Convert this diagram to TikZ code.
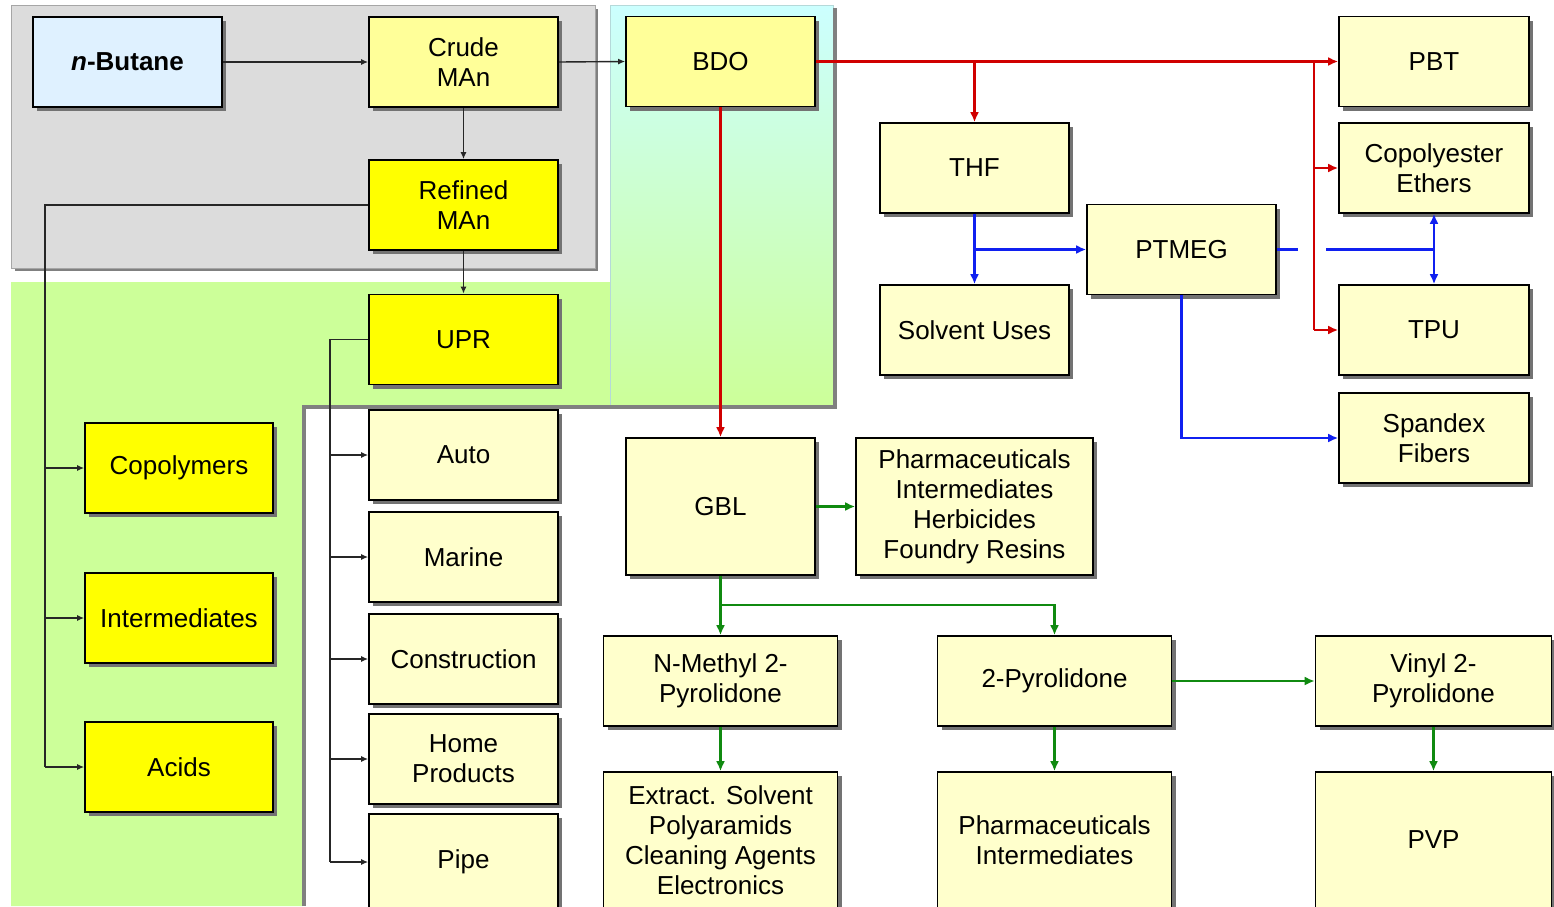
\documentclass[tikz,border=0pt]{standalone}
\usepackage{fontspec}
\setmainfont{Liberation Sans}
\usetikzlibrary{arrows.meta,shadows}
\definecolor{paleY}{HTML}{FFFF99}
\definecolor{cream}{HTML}{FFFFCC}
\definecolor{yel}{HTML}{FFFF00}
\definecolor{lblue}{HTML}{DFF1FF}
\definecolor{panelgray}{HTML}{DCDCDC}
\definecolor{lgreen}{HTML}{CCFF99}
\definecolor{lcyan}{HTML}{CCFFFF}
\definecolor{redc}{HTML}{D00000}
\definecolor{bluec}{HTML}{1020F0}
\definecolor{greenc}{HTML}{108A10}
\tikzset{
  box/.style={draw=black, line width=0.8pt, align=center, inner sep=2pt,
    minimum width=94.5pt, minimum height=45pt,
    font=\fontsize{13}{15}\selectfont,
    drop shadow={shadow xshift=2pt, shadow yshift=-2pt, fill=black!55, opacity=1}},
  blk/.style={draw=black!85, line width=0.7pt, -{Latex[length=3.5pt,width=3pt]}},
  blkn/.style={draw=black!85, line width=0.9pt},
  redl/.style={draw=redc, line width=1.4pt, -{Latex[length=5pt,width=4.5pt]}},
  redn/.style={draw=redc, line width=1.4pt},
  bluel/.style={draw=bluec, line width=1.4pt, -{Latex[length=5pt,width=4.5pt]}},
  bluen/.style={draw=bluec, line width=1.4pt},
  greenl/.style={draw=greenc, line width=1.4pt, -{Latex[length=5pt,width=4.5pt]}},
  greenn/.style={draw=greenc, line width=1.4pt},
}
\begin{document}
\begin{tikzpicture}[x=0.5pt,y=-0.5pt]
\useasboundingbox (0,0) rectangle (1554,906);
\fill[white] (0,0) rectangle (1554,906);
% green L region
\fill[lgreen] (11,282) -- (610,282) -- (610,405) -- (302,405) -- (302,906) -- (11,906) -- cycle;
\shade[top color=lcyan, bottom color=lgreen] (610,5) rectangle (833,405);
\draw[lcyan!70!gray, line width=0.4pt] (610,5) rectangle (833,405);
\draw[black!50, line width=2.2pt] (304,906) -- (304,407) -- (835,407) -- (835,8);
% gray panel
\fill[black!50] (15,9) rectangle (598,271);
\filldraw[fill=panelgray, draw=black!35, line width=0.5pt] (11,5) rectangle (595,268);

% nodes
\node[box, fill=lblue] (but) at (127.5,62) {\textbf{\textit{n}-Butane}};
\node[box, fill=paleY] (crude) at (463.5,62) {Crude\\MAn};
\node[box, fill=yel] (ref) at (463.5,205) {Refined\\MAn};
\node[box, fill=yel] (upr) at (463.5,339.5) {UPR};
\node[box, fill=paleY] (bdo) at (720.5,61.5) {BDO};
\node[box, fill=cream, minimum width=95pt] (pbt) at (1434,61.5) {PBT};
\node[box, fill=cream] (thf) at (974.5,168) {THF};
\node[box, fill=cream, minimum width=95pt] (cope) at (1434,168) {Copolyester\\Ethers};
\node[box, fill=cream] (ptmeg) at (1181.5,249.5) {PTMEG};
\node[box, fill=cream] (solv) at (974.5,330) {Solvent Uses};
\node[box, fill=cream, minimum width=95pt] (tpu) at (1434,330) {TPU};
\node[box, fill=cream, minimum width=95pt] (span) at (1434,438) {Spandex\\Fibers};
\node[box, fill=yel, minimum width=94pt] (copo) at (179,468) {Copolymers};
\node[box, fill=yel, minimum width=94pt] (inter) at (179,618) {Intermediates};
\node[box, fill=yel, minimum width=94pt] (acid) at (179,767) {Acids};
\node[box, fill=cream] (auto) at (463.5,455) {Auto};
\node[box, fill=cream] (mar) at (463.5,557) {Marine};
\node[box, fill=cream] (cons) at (463.5,659) {Construction};
\node[box, fill=cream] (home) at (463.5,759) {Home\\Products};
\node[box, fill=cream, minimum height=48pt] (pipe) at (463.5,862) {Pipe};
\node[box, fill=cream, minimum height=68.5pt] (gbl) at (720.5,506.5) {GBL};
\node[box, fill=cream, minimum width=118.5pt, minimum height=68.5pt] (ph1) at (974.5,506.5) {Pharmaceuticals\\Intermediates\\Herbicides\\Foundry Resins};
\node[box, fill=cream, minimum width=117pt] (nmp) at (720.5,681) {N-Methyl 2-\\Pyrolidone};
\node[box, fill=cream, minimum width=117pt] (pyr) at (1054.5,681) {2-Pyrolidone};
\node[box, fill=cream, minimum width=118pt] (vin) at (1433.5,681) {Vinyl 2-\\Pyrolidone};
\node[box, fill=cream, minimum width=117pt, minimum height=68pt] (ext) at (720.5,840) {Extract. Solvent\\Polyaramids\\Cleaning Agents\\Electronics};
\node[box, fill=cream, minimum width=117pt, minimum height=68pt] (ph2) at (1054.5,840) {Pharmaceuticals\\Intermediates};
\node[box, fill=cream, minimum width=118pt, minimum height=68pt] (pvp) at (1433.5,840) {PVP};

% black connectors
\draw[blk] (but.east) -- (crude.west);
\draw[blk] (crude.east) -- (bdo.west);
\draw[blk] (crude.south) -- (ref.north);
\draw[blk] (ref.south) -- (upr.north);
\coordinate (l1) at (45,205);
\draw[blkn] (ref.west) -- (l1) -- (l1 |- acid.west);
\draw[blk] (l1 |- copo.west) -- (copo.west);
\draw[blk] (l1 |- inter.west) -- (inter.west);
\draw[blk] (l1 |- acid.west) -- (acid.west);
\coordinate (u1) at (330,339.5);
\draw[blkn] (upr.west) -- (u1) -- (u1 |- pipe.west);
\draw[blk] (u1 |- auto.west) -- (auto.west);
\draw[blk] (u1 |- mar.west) -- (mar.west);
\draw[blk] (u1 |- cons.west) -- (cons.west);
\draw[blk] (u1 |- home.west) -- (home.west);
\draw[blk] (u1 |- pipe.west) -- (pipe.west);

% red connectors
\draw[redl] (bdo.east) -- (pbt.west);
\draw[redl] (thf.north |- bdo.east) -- (thf.north);
\coordinate (rj) at (1314,61.5);
\draw[redn] (rj) -- (rj |- tpu.west);
\draw[redl] (rj |- cope.west) -- (cope.west);
\draw[redl] (rj |- tpu.west) -- (tpu.west);
\draw[redl] (bdo.south) -- (gbl.north);

% blue connectors
\draw[bluel] (thf.south) -- (solv.north);
\draw[bluel] (thf.south |- ptmeg.west) -- (ptmeg.west);
\coordinate (g1) at (1298,249.5);
\coordinate (g2) at (1326,249.5);
\coordinate (pj) at (cope.south |- ptmeg.east);
\draw[bluen] (ptmeg.east) -- (g1);
\draw[bluen] (g2) -- (pj);
\draw[bluel] (pj) -- (cope.south);
\draw[bluel] (pj) -- (tpu.north);
\draw[bluel] (ptmeg.south) |- (span.west);

% green connectors
\draw[greenl] (gbl.east) -- (ph1.west);
\draw[greenl] (gbl.south) -- (nmp.north);
\coordinate (gj) at (720.5,605);
\draw[greenl] (gj) -| (pyr.north);
\draw[greenl] (pyr.east) -- (vin.west);
\draw[greenl] (nmp.south) -- (ext.north);
\draw[greenl] (pyr.south) -- (ph2.north);
\draw[greenl] (vin.south) -- (pvp.north);
\end{tikzpicture}
\end{document}
